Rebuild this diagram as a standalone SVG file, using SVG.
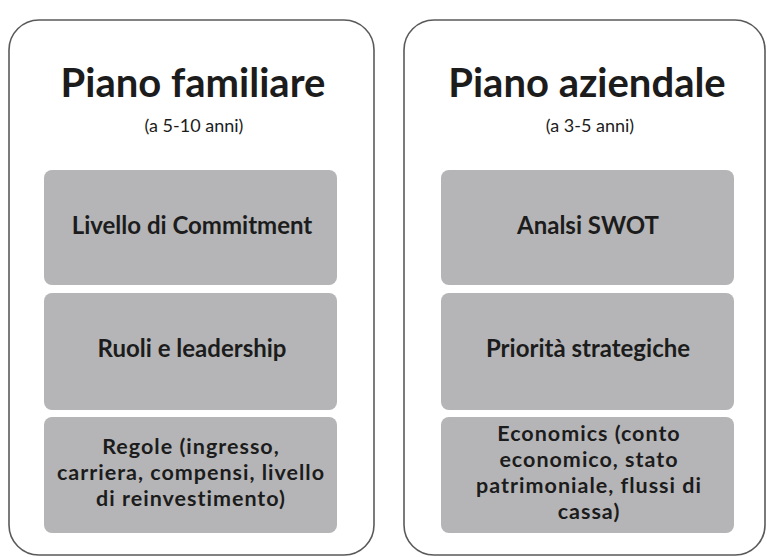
<svg xmlns="http://www.w3.org/2000/svg" width="767" height="557" viewBox="0 0 767 557">
  <style>
    .panel { fill: #ffffff; stroke: #5a5a5a; stroke-width: 1.6; }
    .item { fill: #b5b5b7; }
    .title { font-family: Lato, "Open Sans", sans-serif; font-weight: 700; font-size: 40px; fill: #1c1c1c; text-anchor: middle; }
    .sub { font-family: Lato, "Open Sans", sans-serif; font-weight: 400; font-size: 18px; fill: #1c1c1c; text-anchor: middle; }
    .label { font-family: Lato, "Open Sans", sans-serif; font-weight: 700; font-size: 24px; fill: #1c1c1c; text-anchor: middle; }
    .multi { font-size: 21.5px; letter-spacing: 1px; }
  </style>
  <rect x="0" y="0" width="767" height="557" fill="#ffffff"/>

  <!-- Family plan column -->
  <g id="piano-familiare">
    <rect class="panel" x="9" y="20" width="365" height="535" rx="30" ry="30"/>
    <text class="title" x="193" y="97">Piano familiare</text>
    <text class="sub" x="194" y="132">(a 5-10 anni)</text>
  </g>
  <g id="livello-commitment">
    <rect class="item" x="44" y="170" width="293" height="115" rx="8"/>
    <text class="label" x="192" y="234">Livello di Commitment</text>
  </g>
  <g id="ruoli-leadership">
    <rect class="item" x="44" y="293" width="293" height="117" rx="8"/>
    <text class="label" x="192" y="357">Ruoli e leadership</text>
  </g>
  <g id="regole">
    <rect class="item" x="44" y="417" width="293" height="116" rx="8"/>
    <text class="label multi" y="454"><tspan x="191">Regole (ingresso,</tspan><tspan x="191" dy="26">carriera, compensi, livello</tspan><tspan x="191" dy="26">di reinvestimento)</tspan></text>
  </g>

  <!-- Business plan column -->
  <g id="piano-aziendale">
    <rect class="panel" x="404" y="20" width="361" height="535" rx="30" ry="30"/>
    <text class="title" x="587" y="97">Piano aziendale</text>
    <text class="sub" x="590" y="132">(a 3-5 anni)</text>
  </g>
  <g id="analisi-swot">
    <rect class="item" x="441" y="170" width="293" height="115" rx="8"/>
    <text class="label" x="588" y="234">Analsi SWOT</text>
  </g>
  <g id="priorita-strategiche">
    <rect class="item" x="441" y="293" width="293" height="117" rx="8"/>
    <text class="label" x="588" y="357">Priorità strategiche</text>
  </g>
  <g id="economics">
    <rect class="item" x="441" y="417" width="293" height="116" rx="8"/>
    <text class="label multi" y="441"><tspan x="589">Economics (conto</tspan><tspan x="589" dy="26">economico, stato</tspan><tspan x="589" dy="26">patrimoniale, flussi di</tspan><tspan x="589" dy="26">cassa)</tspan></text>
  </g>

  <!-- No connectors in this layout -->
  <g id="connectors"/>
</svg>
